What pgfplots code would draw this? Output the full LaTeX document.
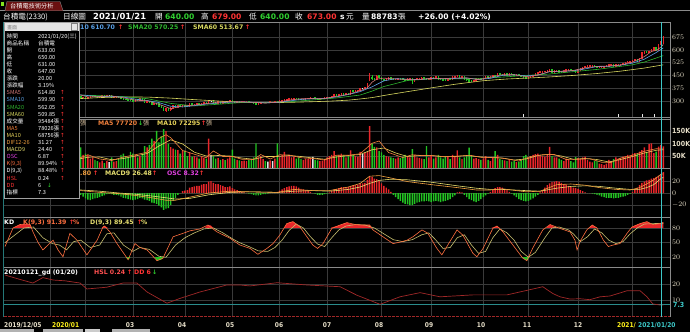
\documentclass[border=0pt]{standalone}
\usepackage{pgfplots}
\pgfplotsset{compat=1.18}
\usepackage{pgfplotstable}
\usepackage{fontspec}
\setmainfont{DejaVu Sans}
\newfontfamily\cjk{Noto Sans CJK TC}
\newfontfamily\dvc{DejaVu Sans Condensed}
\newcommand\fs[1]{\fontsize{#1}{#1}\selectfont}
\definecolor{gridc}{HTML}{3A3A3A}
\definecolor{sepc}{HTML}{8A8A8A}
\definecolor{upc}{HTML}{E8262A}
\definecolor{dnc}{HTML}{22C322}
\definecolor{flc}{HTML}{E6E6E6}
\definecolor{smaf}{HTML}{D07878}
\definecolor{smat}{HTML}{5AA0E6}
\definecolor{smaw}{HTML}{2FB52F}
\definecolor{smas}{HTML}{D8D860}
\definecolor{vmaf}{HTML}{F0803C}
\definecolor{vmat}{HTML}{E6D25A}
\definecolor{difc}{HTML}{F0A040}
\definecolor{macc}{HTML}{E8E070}
\definecolor{kc}{HTML}{FF7040}
\definecolor{dc}{HTML}{C8C070}
\definecolor{gdc}{HTML}{A02828}
\definecolor{cyc}{HTML}{3CC8C8}
\definecolor{tickc}{HTML}{E6DEC8}
\definecolor{hgreen}{HTML}{30D030}
\definecolor{hred}{HTML}{FF3434}
\definecolor{magc}{HTML}{E040E0}
\definecolor{tabred}{HTML}{6A1010}

\pgfplotstableread{
i d o h l c v osc
0 1 308 313 307 311 35 4
1 1 311 314 309 312 30 4
2 1 312 315 311 313 28 4
3 1 313 317 312 315 32 4
4 1 315 318 314 316 30 4
5 1 316 320 315 318 33 5
6 1 318 323 317 322 40 5
7 1 322 328 321 326 45 6
8 1 326 329 324 327 35 6
9 1 327 332 326 331 42 6
10 0 331 333 328 329 30 5
11 0 329 331 326 327 28 4
12 1 327 331 326 330 25 4
13 0 330 332 328 329 20 3
14 1 329 332 328 331 18 3
15 1 331 334 330 332 22 3
16 1 332 335 331 333 20 3
17 0 333 334 331 332 24 2
18 0 332 334 330 331 22 2
19 1 331 340 331 339 45 3
20 2 339 341 337 339 40 3
21 0 339 339 331 332 50 2
22 0 332 334 327 329 45 1
23 2 329 331 327 329 35 0
24 1 329 338 329 337 42 1
25 1 337 340 336 339 38 1
26 1 339 343 338 341 35 2
27 1 341 346 340 345 40 2
28 0 345 346 342 343 33 2
29 0 343 344 340 341 30 1
30 0 341 342 337 338 32 0
31 1 338 340 336 339 28 0
32 0 328 330 320 321 85 -3
33 1 321 324 318 322 55 -6
34 0 322 323 314 316 60 -9
35 1 316 323 315 322 55 -11
36 1 322 326 321 325 40 -12
37 1 325 332 324 331 45 -10
38 0 331 332 326 327 35 -9
39 0 327 328 322 323 30 -8
40 1 323 325 321 324 25 -7
41 1 324 331 323 330 32 -5
42 0 330 331 328 329 22 -4
43 1 329 334 328 333 30 -2
44 2 333 335 331 333 26 -1
45 0 333 333 321 322 45 -2
46 1 322 325 320 323 28 -3
47 1 323 328 322 327 30 -3
48 0 327 327 321 322 40 -4
49 0 322 323 314 315 55 -6
50 0 315 316 309 310 60 -8
51 0 310 312 307 309 50 -9
52 0 309 311 305 307 45 -10
53 0 307 309 304 306 67 -11
54 0 306 306 298 300 60 -12
55 1 300 308 299 306 55 -11
56 0 306 308 303 305 45 -10
57 1 305 312 304 311 50 -8
58 0 311 311 303 305 60 -9
59 0 305 305 292 294 90 -11
60 1 294 299 290 296 85 -12
61 0 296 300 292 294 95 -13
62 0 294 294 280 282 120 -16
63 1 282 288 278 283 110 -17
64 0 283 290 276 282 151 -18
65 0 282 284 270 272 105 -21
66 0 272 275 260 263 130 -24
67 0 263 265 245 248 158 -28
68 1 248 258 235 253 150 -26
69 0 253 256 246 248 100 -25
70 1 248 260 247 259 86 -20
71 1 259 272 258 270 80 -13
72 0 270 271 264 266 76 -8
73 1 266 275 265 273 74 -3
74 0 273 274 266 268 60 0
75 1 268 276 267 274 70 3
76 0 274 275 268 270 72 4
77 0 270 272 266 268 50 5
78 1 268 283 268 282 65 9
79 0 282 283 276 278 48 10
80 1 278 283 277 281 50 11
81 1 281 284 279 282 45 12
82 0 282 283 277 279 40 12
83 1 279 288 279 287 46 14
84 1 287 291 286 289 42 15
85 0 289 290 283 284 40 15
86 1 284 300 284 299 120 19
87 2 299 302 296 299 55 20
88 0 299 299 286 288 50 17
89 0 288 290 285 287 40 15
90 1 287 294 286 293 42 15
91 0 293 294 288 289 35 13
92 1 289 295 288 294 38 12
93 0 294 295 290 291 34 10
94 1 291 297 290 296 40 10
95 1 296 304 295 303 45 11
96 0 303 303 294 296 76 8
97 0 296 297 292 293 40 6
98 1 293 296 292 295 35 5
99 0 295 296 291 292 33 3
100 1 292 294 291 293 30 2
101 1 293 295 292 294 32 1
102 1 294 296 293 295 30 0
103 0 295 296 291 292 35 -1
104 0 292 293 290 291 38 -2
105 0 291 292 285 286 45 -3
106 0 286 287 280 282 101 -4
107 1 282 287 281 286 45 -4
108 1 286 292 285 291 50 -3
109 1 291 293 290 292 38 -2
110 0 292 293 290 291 30 -2
111 2 291 292 290 291 28 -1
112 1 291 294 290 293 33 0
113 2 293 294 292 293 30 0
114 1 293 298 292 297 40 1
115 0 297 298 293 295 101 2
116 1 295 300 295 299 45 4
117 1 299 302 298 301 55 6
118 1 301 306 300 305 67 8
119 1 305 308 304 307 50 10
120 1 307 312 306 311 55 11
121 1 311 313 310 312 45 12
122 1 312 316 311 315 48 12
123 0 315 316 313 314 40 11
124 0 314 314 308 309 45 9
125 0 309 310 307 308 38 7
126 1 308 311 307 310 35 6
127 1 310 315 309 314 40 5
128 1 314 316 313 315 38 4
129 1 315 318 314 317 42 2
130 2 317 319 315 317 47 0
131 0 317 317 313 314 35 -1
132 0 314 315 312 313 33 -3
133 1 313 315 312 314 30 -3
134 1 314 316 313 315 32 -3
135 1 315 318 314 317 38 -2
136 1 317 320 316 319 45 -1
137 1 319 323 318 322 50 1
138 1 322 327 321 326 55 3
139 1 326 337 325 336 70 6
140 0 336 337 331 333 50 7
141 1 333 339 332 338 55 8
142 1 338 344 337 343 60 10
143 0 343 344 335 337 55 10
144 1 337 343 336 342 45 10
145 0 342 343 338 340 50 10
146 1 340 359 340 358 73 12
147 0 358 360 354 357 55 13
148 1 357 362 356 360 50 13
149 1 360 364 358 362 48 14
150 1 362 376 361 374 67 16
151 2 374 378 370 374 60 16
152 1 374 378 372 376 65 17
153 1 376 400 376 399 67 22
154 1 424 466 420 439 170 28
155 0 439 450 425 432 101 27
156 0 432 436 422 427 87 24
157 1 427 447 426 446 85 23
158 0 446 448 435 437 70 20
159 0 437 438 424 426 65 16
160 0 426 428 421 424 55 12
161 1 424 431 423 430 50 9
162 1 430 436 429 435 48 6
163 0 435 436 427 428 45 2
164 0 428 430 425 426 42 -3
165 1 426 429 424 427 40 -7
166 1 427 434 426 433 45 -10
167 0 433 434 429 430 42 -13
168 0 430 431 423 425 48 -16
169 0 425 426 418 420 55 -18
170 1 420 429 419 428 50 -19
171 1 428 432 427 430 45 -20
172 0 430 431 402 415 78 -20
173 1 415 426 414 425 55 -18
174 1 425 429 424 428 45 -16
175 1 428 434 427 433 42 -15
176 1 433 437 432 435 40 -14
177 0 435 436 431 433 38 -14
178 0 433 434 426 428 90 -13
179 1 428 431 427 430 45 -14
180 1 430 438 429 437 50 -15
181 0 437 438 431 432 40 -14
182 1 432 441 431 440 45 -13
183 0 440 440 426 427 55 -14
184 0 427 428 423 425 45 -15
185 0 425 427 422 424 40 -14
186 0 424 425 417 419 48 -13
187 1 419 431 418 430 50 -12
188 0 430 431 427 429 38 -10
189 1 429 441 428 440 55 -7
190 1 440 446 439 445 50 -4
191 1 445 447 441 446 73 1
192 0 446 447 437 438 45 2
193 1 438 441 437 440 38 1
194 0 440 440 429 430 45 -3
195 0 430 431 423 424 50 -7
196 0 424 425 416 418 84 -10
197 0 418 419 415 417 50 -12
198 1 417 422 416 421 40 -14
199 1 421 429 420 428 42 -15
200 1 428 433 427 432 38 -13
201 0 432 433 428 429 35 -10
202 1 429 434 428 433 40 -7
203 1 433 444 432 443 50 -4
204 0 443 444 438 439 35 -1
205 1 439 442 438 441 30 2
206 1 441 450 440 449 45 5
207 0 449 451 445 447 70 8
208 1 447 460 446 459 55 10
209 0 459 460 453 455 40 10
210 0 455 456 452 453 35 9
211 1 453 458 452 457 33 7
212 0 457 458 452 453 30 5
213 1 453 460 452 459 35 2
214 0 459 460 454 455 28 -1
215 0 455 456 449 450 30 -4
216 1 450 453 449 452 26 -7
217 0 452 453 449 450 28 -10
218 0 450 451 446 447 35 -12
219 0 447 448 436 437 50 -13
220 0 437 438 431 433 55 -14
221 1 433 438 432 437 45 -13
222 1 437 444 436 443 50 -11
223 1 443 451 442 450 55 -9
224 1 450 459 449 458 58 -6
225 1 458 467 457 466 60 -3
226 1 466 470 465 469 52 1
227 1 469 473 468 472 50 5
228 1 472 475 471 474 48 9
229 1 474 478 473 477 55 13
230 1 477 483 476 481 87 16
231 0 481 482 470 471 50 18
232 1 471 477 470 476 45 19
233 1 476 479 475 478 45 20
234 0 478 479 470 471 40 19
235 0 471 472 468 470 35 17
236 1 470 476 469 475 30 15
237 1 475 483 474 482 40 14
238 1 482 485 481 484 35 12
239 0 484 485 479 480 30 10
240 0 480 481 477 478 25 9
241 0 478 479 465 466 46 8
242 1 466 481 465 480 42 7
243 1 480 488 479 487 40 5
244 1 487 496 486 495 45 3
245 1 495 504 494 503 48 1
246 1 503 506 501 504 35 0
247 1 504 508 503 506 28 0
248 1 506 509 504 507 25 -1
249 0 507 508 500 501 30 -2
250 0 501 502 495 497 32 -3
251 1 497 500 496 498 20 -4
252 1 498 501 497 500 18 -6
253 1 500 504 499 503 15 -7
254 1 503 505 502 504 20 -8
255 1 504 511 503 510 35 -8
256 1 510 514 509 512 30 -8
257 0 512 513 504 505 38 -9
258 1 505 511 504 510 45 -8
259 1 510 513 509 512 40 -8
260 1 512 516 511 515 42 -7
261 1 515 518 514 517 48 -6
262 1 517 525 516 524 50 -5
263 1 524 530 523 529 55 -3
264 1 529 531 527 530 52 -1
265 1 530 538 529 536 60 2
266 1 536 544 535 542 62 6
267 0 542 545 533 535 58 9
268 1 535 550 534 549 68 13
269 1 549 582 548 580 74 17
270 1 580 595 578 590 85 19
271 0 590 592 580 585 65 21
272 1 585 592 582 589 98 22
273 1 589 600 587 599 101 24
274 1 599 614 597 611 62 25
275 0 611 613 598 600 68 27
276 1 600 628 600 627 88 29
277 1 633 650 631 647 95 32
278 1 640 679 640 673 89 35
}\daily

\pgfplotsset{
  panel/.style={
    scale only axis, width=666.8pt, xmin=-0.8, xmax=280.8,
    anchor=south west,
    axis line style={draw=none}, tick style={draw=none},
    xtick={19,34,54,76,96,116,136,159,180,202,221,242,265},
    xticklabels={}, xmajorgrids, ymajorgrids,
    major grid style={draw=gridc, line width=0.5pt},
    yticklabel pos=right,
    yticklabel style={font=\dvc\bfseries\fs{7}, text=tickc, anchor=west, inner sep=0pt, xshift=2pt},
  },
  wick/.style={draw=none, mark=none, forget plot,
    error bars/.cd, y dir=plus, y explicit, error mark=none,
    error bar style={draw=#1, line width=0.45pt}},
  body/.style={draw=none, mark=none, forget plot,
    error bars/.cd, y dir=plus, y explicit, error mark=none,
    error bar style={draw=#1, line width=1.45pt, line cap=rect}},
  vbar/.style={ybar, bar width=1.45pt, bar shift=0pt, fill=#1, draw=none, forget plot},
}
\def\ua{u}\def\da{d}

\begin{document}
\begin{tikzpicture}
\path[use as bounding box] (0,0) rectangle (690pt,-332pt);
\fill[black] (0,0) rectangle (690pt,-332pt);

% ---------------- price panel
\begin{axis}[panel, at={(3.1pt,-117pt)}, height=95pt, ymin=206.3, ymax=762.9,
  ytick={300,375,450,525,600,675}]
% rows of another colour are sent to y=0 (below the axis) with zero length, so they are clipped away
\addplot[wick=upc] table[x=i, y expr={\thisrow{l}*(\thisrow{d}==1)}, y error plus expr={(\thisrow{h}-\thisrow{l})*(\thisrow{d}==1)}] {\daily};
\addplot[wick=dnc] table[x=i, y expr={\thisrow{l}*(\thisrow{d}==0)}, y error plus expr={(\thisrow{h}-\thisrow{l})*(\thisrow{d}==0)}] {\daily};
\addplot[wick=flc] table[x=i, y expr={\thisrow{l}*(\thisrow{d}==2)}, y error plus expr={(\thisrow{h}-\thisrow{l})*(\thisrow{d}==2)}] {\daily};
\addplot[body=upc] table[x=i, y expr={\thisrow{o}*(\thisrow{d}==1)}, y error plus expr={(\thisrow{c}-\thisrow{o})*(\thisrow{d}==1)}] {\daily};
\addplot[body=dnc] table[x=i, y expr={\thisrow{c}*(\thisrow{d}==0)}, y error plus expr={(\thisrow{o}-\thisrow{c})*(\thisrow{d}==0)}] {\daily};
\addplot[body=flc] table[x=i, y expr={\thisrow{o}*(\thisrow{d}==2)}, y error plus expr=0] {\daily};
% SMA60
\addplot[smas, line width=0.6pt] coordinates {(0,290)(10,297)(20,305)(30,313)(40,320)(50,324)(60,323)(70,317)(80,308)(90,300)(100,292)(110,290)(120,292)(130,296)(137,299)(145,305)(150,312)(155,320)(162,337)(170,355)(180,377)(190,398)(202,419)(212,429)(223,436)(230,441)(239,449)(250,461)(260,475)(270,493)(278,512)};
% SMA20
\addplot[smaw, line width=0.6pt] coordinates {(0,305)(10,312)(19,325)(30,335)(40,331)(50,325)(60,314)(70,286)(80,271)(90,281)(100,291)(110,292)(120,296)(130,306)(140,318)(150,335)(155,358)(160,385)(170,420)(180,430)(190,430)(200,431)(210,440)(220,450)(230,458)(240,472)(250,485)(260,503)(265,512)(270,528)(278,566)};
% SMA10
\addplot[smat, line width=0.6pt] coordinates {(0,308)(10,318)(20,330)(30,338)(35,332)(40,326)(45,327)(50,323)(55,311)(60,303)(65,291)(70,269)(75,265)(80,273)(85,282)(90,289)(95,293)(100,295)(105,292)(110,289)(115,292)(120,300)(125,309)(130,313)(135,315)(140,324)(145,338)(150,355)(155,383)(160,418)(165,431)(170,428)(175,425)(180,432)(185,430)(190,432)(195,435)(200,426)(205,433)(210,450)(215,454)(220,447)(225,452)(230,472)(235,474)(240,477)(245,488)(250,502)(255,503)(260,510)(265,522)(270,545)(275,584)(278,611)};
% SMA5
\addplot[smaf, line width=0.6pt] coordinates {(0,309)(5,314)(10,327)(15,330)(20,333)(25,333)(30,342)(35,324)(40,326)(45,330)(50,319)(55,304)(60,302)(65,281)(70,255)(75,271)(80,276)(85,285)(90,293)(95,295)(100,294)(105,292)(110,288)(115,293)(120,305)(125,313)(130,315)(135,315)(140,327)(145,340)(150,360)(153,377)(155,410)(157,428)(160,434)(165,429)(170,426)(175,425)(180,434)(185,431)(190,435)(195,435)(200,425)(205,440)(210,454)(215,454)(220,443)(225,451)(230,473)(235,474)(240,479)(245,494)(250,503)(255,505)(260,511)(265,528)(270,560)(273,590)(275,597)(277,615)(278,631)};
\end{axis}

% ---------------- volume panel
\begin{axis}[panel, at={(3.1pt,-168.5pt)}, height=49.5pt, ymin=0, ymax=198,
  ytick={50,100,150}, yticklabels={50K,100K,150K}]
\addplot[vbar=upc] table[x=i, y expr={\thisrow{v}*(\thisrow{d}==1)}] {\daily};
\addplot[vbar=dnc] table[x=i, y expr={\thisrow{v}*(\thisrow{d}==0)}] {\daily};
\addplot[vbar=flc] table[x=i, y expr={\thisrow{v}*(\thisrow{d}==2)}] {\daily};
\addplot[vmat, line width=0.6pt] coordinates {(0,33)(10,35)(20,32)(30,36)(35,45)(40,46)(45,35)(50,40)(55,50)(60,60)(65,90)(70,115)(75,98)(80,65)(85,50)(90,52)(95,50)(100,42)(105,37)(110,48)(115,48)(120,52)(125,48)(130,42)(135,37)(140,46)(145,52)(150,56)(155,75)(160,82)(165,62)(170,48)(175,52)(180,52)(185,47)(190,48)(195,52)(200,47)(205,44)(210,42)(215,34)(220,38)(225,52)(230,57)(235,50)(240,37)(245,40)(250,36)(255,26)(260,36)(265,48)(270,62)(275,73)(278,75)};
\addplot[vmaf, line width=0.6pt] coordinates {(0,33)(10,38)(20,30)(30,36)(35,55)(40,38)(45,32)(50,46)(55,55)(60,65)(65,120)(68,135)(70,123)(75,72)(80,57)(85,43)(88,70)(92,48)(96,48)(100,37)(105,36)(108,56)(112,38)(116,55)(120,54)(125,43)(130,40)(135,34)(140,53)(145,53)(150,59)(155,101)(158,110)(162,64)(168,44)(172,55)(176,52)(180,52)(186,47)(192,50)(197,52)(202,43)(207,45)(212,38)(217,30)(222,48)(227,55)(232,56)(237,36)(242,37)(247,39)(252,25)(256,24)(260,42)(265,53)(270,69)(275,79)(278,78)};
\end{axis}

% ---------------- MACD panel
\begin{axis}[panel, at={(3.1pt,-217pt)}, height=48pt, ymin=-40, ymax=40,
  ytick={-20,0,20}]
\addplot[vbar=upc] table[x=i, y expr={max(\thisrow{osc},0)}] {\daily};
\addplot[vbar=dnc] table[x=i, y expr={min(\thisrow{osc},0)}] {\daily};
\addplot[macc, line width=0.6pt] coordinates {(0,4)(20,6)(32,5)(40,3)(48,0)(55,-2)(62,-5)(68,-8)(72,-10)(78,-9)(86,-3)(95,1)(103,2)(115,1)(122,3)(130,4)(137,3)(145,6)(150,10)(154,16)(158,21)(163,23)(170,22)(180,18)(191,12)(199,8)(205,6)(210,6)(220,4)(226,3)(233,8)(239,11)(245,12)(251,11)(258,8)(264,6)(268,6)(271,9)(274,14)(277,24)(278,26)};
\addplot[difc, line width=0.6pt] coordinates {(0,5)(20,6)(32,4)(40,1)(48,-1)(55,-4)(62,-8)(68,-12)(72,-12)(78,-7)(86,0)(95,3)(103,2)(115,1)(122,6)(130,4)(137,4)(145,10)(150,16)(154,28)(158,29)(163,25)(170,19)(180,14)(191,9)(199,5)(205,5)(210,7)(220,2)(226,3)(233,14)(239,15)(245,13)(251,9)(258,6)(264,5)(268,9)(271,15)(274,22)(277,31)(278,32)};
\end{axis}

% ---------------- KD panel
\begin{axis}[panel, at={(3.1pt,-267pt)}, height=48.8pt, ymin=0, ymax=100,
  ytick={20,50,80}]
\addplot[fill=upc, draw=none, forget plot] coordinates {(3.4,80)(5,84)(6.3,87)(8.5,88)(10.6,87)(11.3,80)};
\addplot[fill=upc, draw=none, forget plot] coordinates {(40.8,80)(41.4,82)(42,84)(43.5,80)};
\addplot[fill=upc, draw=none, forget plot] coordinates {(84.4,80)(85.7,86)(87,85)(88,80)};
\addplot[fill=upc, draw=none, forget plot] coordinates {(117.8,80)(119,89)(120.5,92)(121.6,93)(123.5,86)(124.6,82)(125,80)};
\addplot[fill=upc, draw=none, forget plot] coordinates {(137.6,80)(138,81)(141.5,86)(144.4,91)(146,88)(148,87)(151,86)(154,86)(155,80)};
\addplot[fill=upc, draw=none, forget plot] coordinates {(205.4,80)(206,81)(207.8,84)(209,80)};
\addplot[fill=upc, draw=none, forget plot] coordinates {(228.6,80)(230.2,87)(232,82)(232.5,80)};
\addplot[fill=upc, draw=none, forget plot] coordinates {(246.5,80)(248,86)(250,80)};
\addplot[fill=upc, draw=none, forget plot] coordinates {(264.5,80)(266,85)(268.2,89)(271.1,93)(273.6,87)(276.6,89)(278,91.4)(278,80)};
\addplot[fill=dnc, draw=none, forget plot] coordinates {(51,20)(52,15)(53,20)};
\addplot[fill=dnc, draw=none, forget plot] coordinates {(63.2,20)(64.2,13)(66,15)(67,20)};
\addplot[fill=dnc, draw=none, forget plot] coordinates {(218.2,20)(219.5,16)(220.4,13)(221.5,20)};
\addplot[dc, line width=0.6pt] coordinates {(0,50)(4,65)(8,80)(12,82)(16,60)(20,48)(23,45)(26,35)(29,52)(32,55)(36,40)(40,45)(43,68)(46,70)(50,45)(54,32)(57,40)(61,36)(65,22)(68,20)(72,45)(76,60)(80,70)(84,78)(88,80)(92,70)(96,58)(99,50)(103,42)(107,33)(111,32)(114,40)(117,55)(120,75)(123,88)(126,80)(129,62)(132,47)(135,42)(138,60)(141,76)(144,84)(148,87)(152,86)(156,80)(160,68)(164,56)(168,52)(172,56)(176,66)(179,70)(182,55)(185,38)(188,40)(191,60)(194,66)(197,45)(200,28)(203,32)(206,60)(209,78)(212,70)(215,55)(218,32)(221,20)(224,30)(228,60)(231,80)(234,82)(238,76)(240,68)(243,52)(246,62)(249,78)(252,70)(255,55)(258,48)(261,52)(264,68)(267,80)(270,88)(274,89)(278,89.5)};
\addplot[kc, line width=0.6pt] coordinates {(0,42)(3.4,80)(6.3,87)(8.5,88)(10.6,87)(11.8,72)(14,50)(16,35)(19,49)(20.3,55)(22.4,35)(24.5,21)(27.4,69)(30.4,55)(34.6,25)(38.9,55)(41.4,82)(42,84)(44.3,72)(47.3,48)(52,15)(54.9,48)(57,40)(60,35)(64.2,13)(66.7,18)(71,62)(75.2,69)(78,74)(82.3,78)(85.7,86)(89.5,72)(95,59)(99.2,45)(103.5,38)(106.8,26)(110.6,38)(113.2,48)(116,65)(119,89)(121.6,93)(124.6,82)(127.5,62)(130,45)(132,38)(134.3,48)(138,79)(141.5,86)(144.4,91)(148,87)(151,86)(154,86)(155.4,76)(159.6,62)(163.9,48)(166.8,51)(169.8,55)(172.3,62)(176.1,76)(178.6,69)(182.4,38)(184.5,25)(187,45)(190.9,76)(193.4,65)(197.6,28)(199.3,21)(201.9,38)(206,79)(207.8,84)(210.3,72)(214.5,45)(218.7,18)(220.4,13)(222.8,38)(227.1,76)(230.2,87)(234.4,79)(238.6,72)(240.7,55)(241.6,35)(242.8,52)(245.7,76)(248,86)(250,80)(252.7,55)(254.8,42)(256.8,45)(259.7,48)(262.7,69)(264.8,82)(268.2,89)(271.1,93)(273.6,87)(276.6,89)(278,91.4)};
\end{axis}

% ---------------- GD panel
\begin{axis}[panel, at={(3.1pt,-316pt)}, height=48pt, ymin=0, ymax=30,
  ytick={10,20}]
\addplot[cyc!70!black, line width=0.6pt, forget plot] coordinates {(-1,7.3)(281,7.3)};
\addplot[gdc, line width=0.7pt] coordinates {(0,25.6)(6,23)(11.8,20.6)(16,24)(20.3,22.5)(25.3,22)(31.7,20.6)(34.6,16.9)(43,18)(49.8,20.6)(55.7,20.6)(60,15)(68.4,8)(73.9,11)(82.3,15)(93.7,19.4)(99.2,19.4)(103.5,18.8)(114.9,20.8)(127.5,19.4)(141.5,18.3)(148.6,13)(158.4,7.3)(166.8,12)(175.3,14.6)(183.7,12)(197.6,13.2)(212,13.2)(223,16.9)(227.1,18.3)(231.4,14)(234.4,12)(238.6,10.6)(242.8,10.8)(247,10.2)(251.3,12)(255.5,12.5)(259.7,14.4)(262.7,15.8)(268.2,15.8)(271.1,12)(273.6,7.5)(276.6,6.9)(278,6.9)};
\end{axis}

\begin{scope}[x=1pt, y=-1pt]
% frame and separators
\draw[sepc, line width=0.6pt] (4,22) -- (670,22);
\draw[sepc, line width=0.7pt] (4,117.6) -- (670,117.6);
\draw[sepc, line width=0.7pt] (4,119.2) -- (670,119.2);
\draw[sepc, line width=0.7pt] (4,168.5) -- (670,168.5);
\draw[sepc, line width=0.7pt] (4,217.6) -- (670,217.6);
\draw[sepc, line width=0.7pt] (4,267.2) -- (670,267.2);
\draw[gdc, line width=0.7pt, dash pattern=on 3pt off 1pt] (4,316.8) -- (670,316.8);
\draw[sepc, line width=0.6pt] (670,22) -- (670,317);
\draw[cyc!60!black, line width=0.8pt] (3.5,22) -- (3.5,317);
\draw[cyc, line width=0.6pt] (661,22) -- (661,317);
\foreach \xx in {523,618,642,654} \draw[flc, line width=0.5pt] (\xx,114) -- (\xx,117);
\node[anchor=west, inner sep=0pt, text=cyc, font=\dvc\bfseries\fs{7}] at (673,305) {7.3};

% tab and header
\draw[sepc, line width=0.5pt] (0,10.6) -- (690,10.6);
\fill[tabred] (5,10.6) -- (7,1.5) -- (60,1.5) -- (63,10.6) -- cycle;
\draw[sepc, line width=0.4pt] (5,10.6) -- (7,1.5) -- (60,1.5) -- (63,10.6);
\fill[hgreen!60!yellow] (0.5,2) rectangle (3.5,6);
\node[anchor=base west, inner sep=0pt, text=white, font=\cjk\fs{6.2}] at (10,8.8) {台積電技術分析};
\node[anchor=base west, inner sep=0pt, text=white, font=\cjk\fs{7.6}] at (3,19.6) {台積電(2330)};
\node[anchor=base west, inner sep=0pt, text=white, font=\cjk\fs{7.6}] at (63,19.6) {日線圖};
\node[anchor=base west, inner sep=0pt, text=white, font=\bfseries\fs{8.4}] at (93,19.6) {2021/01/21};
\node[anchor=base west, inner sep=0pt, text=white, font=\cjk\fs{7.6}] at (155,19.6) {開};
\node[anchor=base west, inner sep=0pt, text=hgreen, font=\bfseries\fs{7.6}] at (165,19.6) {640.00};
\node[anchor=base west, inner sep=0pt, text=white, font=\cjk\fs{7.6}] at (201,19.6) {高};
\node[anchor=base west, inner sep=0pt, text=hred, font=\bfseries\fs{7.6}] at (212,19.6) {679.00};
\node[anchor=base west, inner sep=0pt, text=white, font=\cjk\fs{7.6}] at (249,19.6) {低};
\node[anchor=base west, inner sep=0pt, text=hgreen, font=\bfseries\fs{7.6}] at (260,19.6) {640.00};
\node[anchor=base west, inner sep=0pt, text=white, font=\cjk\fs{7.6}] at (295,19.6) {收};
\node[anchor=base west, inner sep=0pt, text=hred, font=\bfseries\fs{7.6}] at (307,19.6) {673.00};
\node[anchor=base west, inner sep=0pt, text=white, font=\bfseries\fs{7.6}] at (340,19.6) {s};
\node[anchor=base west, inner sep=0pt, text=white, font=\cjk\fs{7.6}] at (346,19.6) {元};
\node[anchor=base west, inner sep=0pt, text=white, font=\cjk\fs{7.6}] at (362,19.6) {量};
\node[anchor=base west, inner sep=0pt, text=white, font=\bfseries\fs{7.6}] at (371,19.6) {88783};
\node[anchor=base west, inner sep=0pt, text=white, font=\cjk\fs{7.6}] at (398,19.6) {張};
\node[anchor=base west, inner sep=0pt, text=white, font=\bfseries\fs{7.6}] at (418,19.6) {+26.00 (+4.02\%)};

% panel legends
\begin{scope}[every node/.style={anchor=base west, inner sep=0pt, font=\bfseries\fs{6.2}}]
\node[text=smat] at (80,29.5) {10 610.70};
\node[text=hred] at (118,29.5) {↑};
\node[text=smaw] at (128,29.5) {SMA20 570.25};
\node[text=hred] at (180,29.5) {↑};
\node[text=smas] at (193,29.5) {SMA60 513.67};
\node[text=hred] at (245,29.5) {↑};
\node[text=vmaf] at (98,125.5) {MA5 77720};
\node[text=hgreen] at (138,125.5) {↓};
\node[text=tickc!70!brown, font=\cjk\fs{6.2}] at (143,125.5) {張};
\node[text=vmat] at (157,125.5) {MA10 72295};
\node[text=hred] at (201,125.5) {↑};
\node[text=tickc!70!brown, font=\cjk\fs{6.2}] at (206,125.5) {張};
\node[text=tickc!70!brown, font=\cjk\fs{6.2}] at (80,125.5) {張};
\node[text=difc] at (80,175) {.80};
\node[text=hred] at (93,175) {↑};
\node[text=macc] at (105,175) {MACD9 26.48};
\node[text=hred] at (152,175) {↑};
\node[text=magc] at (167,175) {OSC 8.32};
\node[text=hred] at (199,175) {↑};
\node[text=white] at (4,224.5) {KD};
\node[text=kc] at (23,224.5) {K(9,3) 91.39};
\node[text=hred] at (69,224.5) {↑};
\node[text=kc] at (73,224.5) {\%};
\node[text=macc] at (90,224.5) {D(9,3) 89.45};
\node[text=hred] at (137,224.5) {↑};
\node[text=macc] at (141,224.5) {\%};
\node[text=white] at (4,274.5) {20210121\_gd (01/20)};
\node[text=hred!80!pink] at (94,274.5) {HSL 0.24};
\node[text=hred] at (127,274.5) {↑};
\node[text=hred] at (134,274.5) {DD 6};
\node[text=hgreen] at (152,274.5) {↓};
\end{scope}

% bottom date labels
\begin{scope}[every node/.style={anchor=base, inner sep=0pt, font=\dvc\bfseries\fs{6.6}, text=tickc}]
\node[anchor=base west] at (4,327.5) {2019/12/05};
\node[anchor=base west, text=yellow!90!white] at (52,327.5) {2020/01};
\node at (130,327.5) {03};
\node at (182,327.5) {04};
\node at (230,327.5) {05};
\node at (279,327.5) {06};
\node at (327,327.5) {07};
\node at (379,327.5) {08};
\node at (429,327.5) {09};
\node at (481,327.5) {10};
\node at (527,327.5) {11};
\node at (578,327.5) {12};
\node[anchor=base west, text=yellow!90!white] at (617,327.5) {2021/};
\node[anchor=base west, text=cyc] at (638,327.5) {2021/01/20};
\end{scope}
\fill[gray!60] (0,329) rectangle (34,332);
\fill[gray!60] (43,329) rectangle (83,332);
\fill[gray!40] (85,329) rectangle (100,332);
\fill[gray!60] (112,329) rectangle (150,332);

% data window
\fill[black] (4.5,22) rectangle (79,198);
\draw[sepc!80!white, line width=0.5pt] (4.5,22) rectangle (79,198);
\fill[gray!20] (5,22.5) rectangle (78.5,31);
\node[anchor=base west, inner sep=0pt, text=gray, font=\cjk\fs{5}] at (7,29) {畫面};
\draw[gray, line width=0.4pt] (71,23.5) rectangle (77.5,30);
\begin{scope}[every node/.style={anchor=base west, inner sep=0pt, font=\cjk\fs{5.6}, text=white}]
\foreach \lab/\val/\col/\arr [count=\k] in {
  {時間}/{2021/01/20(三)}/white/n,
  {商品名稱}/{台積電}/white/n,
  {開}/{633.00}/white/n,
  {高}/{650.00}/white/n,
  {低}/{631.00}/white/n,
  {收}/{647.00}/white/n,
  {漲跌}/{20.00}/white/n,
  {漲跌幅}/{3.19\%}/white/n,
  {SMA5}/{614.80}/smaf/u,
  {SMA10}/{599.90}/smat/u,
  {SMA20}/{562.05}/smaw/u,
  {SMA60}/{509.85}/smas/u,
  {成交量}/{95484張}/white/u,
  {MA5}/{78026張}/vmaf/u,
  {MA10}/{68756張}/vmat/u,
  {DIF12-26}/{31.27}/difc/u,
  {MACD9}/{24.40}/macc/u,
  {OSC}/{6.87}/magc/u,
  {K(9,3)}/{89.94\%}/kc/u,
  {D(9,3)}/{88.48\%}/white/u,
  {HSL}/{0.24}/hred/u,
  {DD}/{6}/hred/d,
  {指標}/{7.3}/white/n}
{
  \pgfmathsetmacro\yy{38+7.1*(\k-1)}
  \node[text=\col] at (6.5,\yy) {\lab};
  \node at (38,\yy) {\val};
  \edef\tmparr{\arr}%
  \ifx\tmparr\ua\node[text=hred, font=\fs{5.6}] at (60,\yy) {↑};\fi
  \ifx\tmparr\da\node[text=hgreen, font=\fs{5.6}] at (47,\yy) {↓};\fi
}
\end{scope}
\end{scope}
\end{tikzpicture}
\end{document}
